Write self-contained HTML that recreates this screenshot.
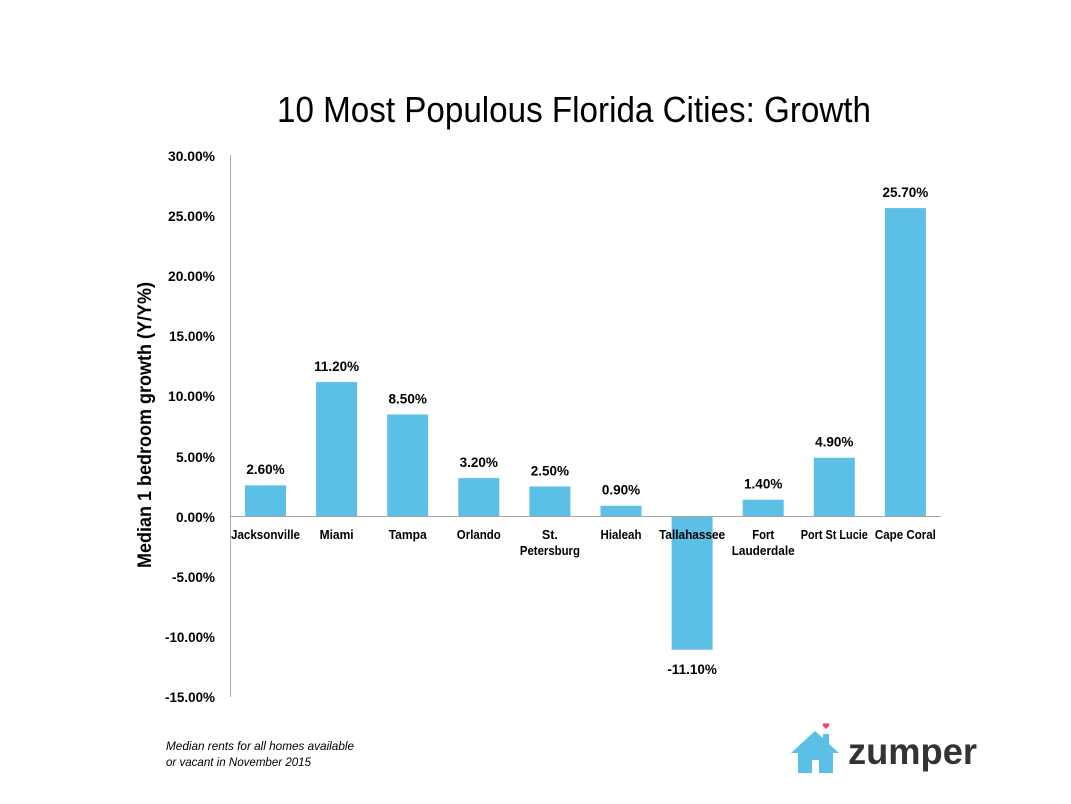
<!DOCTYPE html>
<html><head><meta charset="utf-8">
<style>
html,body{margin:0;padding:0;background:#fff;}
svg{display:block;}
text{font-family:"Liberation Sans",sans-serif;fill:#000;}
.b{font-weight:bold;}
</style></head>
<body>
<svg width="1071" height="804" viewBox="0 0 1071 804" xmlns="http://www.w3.org/2000/svg">
<rect width="1071" height="804" fill="#fff"/>
<!-- Title -->
<text x="277" y="122" font-size="36" textLength="594" lengthAdjust="spacingAndGlyphs">10 Most Populous Florida Cities: Growth</text>

<!-- Y axis title -->
<text class="b" font-size="19" text-anchor="middle" transform="translate(151,425) rotate(-90)" textLength="286" lengthAdjust="spacingAndGlyphs">Median 1 bedroom growth (Y/Y%)</text>

<!-- Tick labels -->
<g class="b" font-size="13.5" text-anchor="end">
<text x="215" y="161" textLength="47" lengthAdjust="spacingAndGlyphs">30.00%</text>
<text x="215" y="221" textLength="47" lengthAdjust="spacingAndGlyphs">25.00%</text>
<text x="215" y="281" textLength="47" lengthAdjust="spacingAndGlyphs">20.00%</text>
<text x="215" y="341" textLength="46" lengthAdjust="spacingAndGlyphs">15.00%</text>
<text x="215" y="401" textLength="47" lengthAdjust="spacingAndGlyphs">10.00%</text>
<text x="215" y="462" textLength="39" lengthAdjust="spacingAndGlyphs">5.00%</text>
<text x="215" y="522" textLength="39" lengthAdjust="spacingAndGlyphs">0.00%</text>
<text x="215" y="582" textLength="43" lengthAdjust="spacingAndGlyphs">-5.00%</text>
<text x="215" y="642" textLength="50" lengthAdjust="spacingAndGlyphs">-10.00%</text>
<text x="215" y="702" textLength="50" lengthAdjust="spacingAndGlyphs">-15.00%</text>
</g>

<!-- Axis -->
<line x1="230.5" y1="155" x2="230.5" y2="697" stroke="#a8a8a8" stroke-width="1"/>

<!-- Bars -->
<g fill="#5bbfe6">
<rect x="245" y="485.3" width="41" height="31.2"/>
<rect x="316.1" y="382.1" width="41" height="134.4"/>
<rect x="387.2" y="414.5" width="41" height="102"/>
<rect x="458.3" y="478.1" width="41" height="38.4"/>
<rect x="529.4" y="486.5" width="41" height="30"/>
<rect x="600.5" y="505.7" width="41" height="10.8"/>
<rect x="671.6" y="516.5" width="41" height="133.2"/>
<rect x="742.7" y="499.7" width="41" height="16.8"/>
<rect x="813.8" y="457.7" width="41" height="58.8"/>
<rect x="884.9" y="208.1" width="41" height="308.4"/>
</g>

<!-- zero line -->
<line x1="230" y1="516.5" x2="941" y2="516.5" stroke="#a8a8a8" stroke-width="1"/>

<!-- Value labels -->
<g class="b" font-size="13.5" text-anchor="middle">
<text x="265.5" y="474">2.60%</text>
<text x="336.6" y="371">11.20%</text>
<text x="407.7" y="403.5">8.50%</text>
<text x="478.8" y="467">3.20%</text>
<text x="549.9" y="475.5">2.50%</text>
<text x="621" y="494.5">0.90%</text>
<text x="692.1" y="674">-11.10%</text>
<text x="763.2" y="488.5">1.40%</text>
<text x="834.3" y="446.5">4.90%</text>
<text x="905.4" y="197">25.70%</text>
</g>

<!-- Category labels -->
<g class="b" font-size="13" text-anchor="middle">
<text x="265.5" y="539" textLength="69" lengthAdjust="spacingAndGlyphs">Jacksonville</text>
<text x="336.6" y="539" textLength="34" lengthAdjust="spacingAndGlyphs">Miami</text>
<text x="407.7" y="539" textLength="38" lengthAdjust="spacingAndGlyphs">Tampa</text>
<text x="478.8" y="539" textLength="44" lengthAdjust="spacingAndGlyphs">Orlando</text>
<text x="549.9" y="539" textLength="16" lengthAdjust="spacingAndGlyphs">St.</text>
<text x="549.9" y="555" textLength="60" lengthAdjust="spacingAndGlyphs">Petersburg</text>
<text x="621" y="539" textLength="41" lengthAdjust="spacingAndGlyphs">Hialeah</text>
<text x="692.1" y="539" textLength="66" lengthAdjust="spacingAndGlyphs">Tallahassee</text>
<text x="763.2" y="539" textLength="22" lengthAdjust="spacingAndGlyphs">Fort</text>
<text x="763.2" y="555" textLength="63" lengthAdjust="spacingAndGlyphs">Lauderdale</text>
<text x="834.3" y="539" textLength="67" lengthAdjust="spacingAndGlyphs">Port St Lucie</text>
<text x="905.4" y="539" textLength="61" lengthAdjust="spacingAndGlyphs">Cape Coral</text>
</g>

<!-- Footnote -->
<g font-size="12" font-style="italic">
<text x="166" y="750" textLength="188" lengthAdjust="spacingAndGlyphs">Median rents for all homes available</text>
<text x="166" y="766" textLength="145" lengthAdjust="spacingAndGlyphs">or vacant in November 2015</text>
</g>

<!-- Zumper logo -->
<g>
<polygon points="815,731 791,753 798,753 798,773 812,773 812,760 819,760 819,773 833,773 833,753 839,753 829,744 829,734 823,734 823,738" fill="#5bbfe6"/>
<path d="M826,729 l-3,-3 a1.8,1.8 0 0 1 3,-2 a1.8,1.8 0 0 1 3,2 z" fill="#f0457c"/>
<text x="848" y="764" font-size="37" class="b" style="fill:#333" textLength="129" lengthAdjust="spacingAndGlyphs">zumper</text>
</g>
</svg>
</body></html>
